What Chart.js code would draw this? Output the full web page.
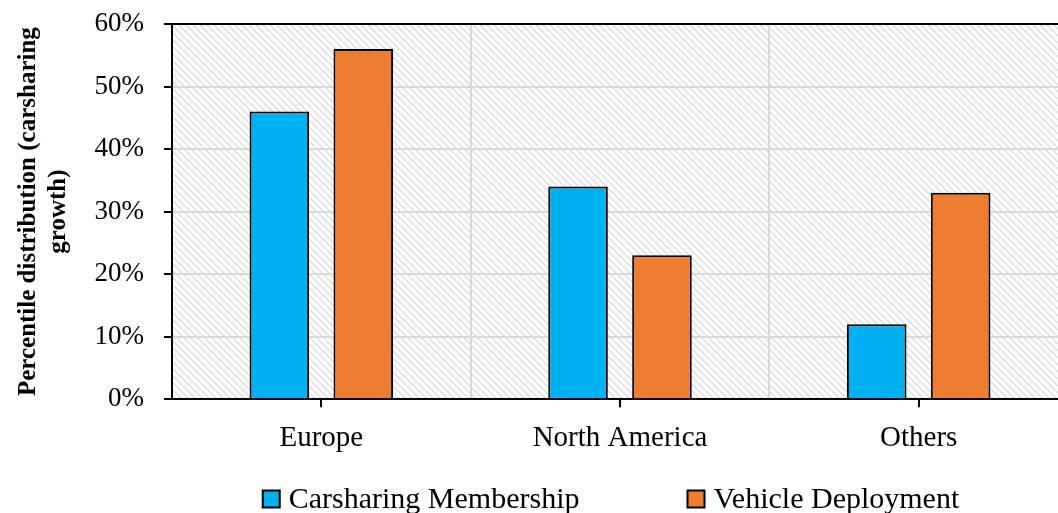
<!DOCTYPE html>
<html>
<head>
<meta charset="utf-8">
<script src="https://cdn.jsdelivr.net/npm/chart.js@4.4.1/dist/chart.umd.min.js"></script>
<style>
  html, body { margin: 0; padding: 0; background: #fff; overflow: hidden; }
  #wrap { width: 1058px; height: 513px; overflow: hidden; position: relative; }
  #box { width: 1232px; height: 513px; position: absolute; left: 0; top: 0; }
</style>
</head>
<body>
<div id="wrap"><div id="box"><canvas id="c"></canvas></div></div>
<script>
const categories = ['Europe', 'North America', 'Others'];
const membership = [46, 34, 12];
const deployment = [56, 23, 33];
const seriesNames = ['Carsharing Membership', 'Vehicle Deployment'];
const yTicks = [0, 10, 20, 30, 40, 50, 60];
const yTitle = ['Percentile distribution (carsharing', 'growth)'];

const FONT = "'Liberation Serif', 'Times New Roman', serif";

function makePattern(ctx) {
  const s = 7;
  const p = document.createElement('canvas');
  p.width = s; p.height = s;
  const g = p.getContext('2d');
  g.fillStyle = '#ffffff';
  g.fillRect(0, 0, s, s);
  g.strokeStyle = '#d6d6d6';
  g.lineWidth = 1.2;
  g.beginPath();
  g.moveTo(-1, -1); g.lineTo(s + 1, s + 1);
  g.moveTo(-1, s - 1); g.lineTo(1, s + 1);
  g.moveTo(s - 1, -1); g.lineTo(s + 1, 1);
  g.stroke();
  return ctx.createPattern(p, 'repeat');
}

const hatchPlugin = {
  id: 'hatch',
  beforeDraw(chart) {
    const a = chart.chartArea, ctx = chart.ctx;
    ctx.save();
    ctx.fillStyle = makePattern(ctx);
    ctx.fillRect(a.left, a.top, a.right - a.left, a.bottom - a.top);
    ctx.restore();
  }
};

const centerTicks = {
  id: 'centerTicks',
  afterDraw(chart) {
    const x = chart.scales.x, ctx = chart.ctx;
    const b = chart.chartArea.bottom;
    ctx.save();
    ctx.strokeStyle = '#000';
    ctx.lineWidth = 2;
    ctx.beginPath();
    x.ticks.forEach((t, i) => {
      const px = Math.round(x.getPixelForTick(i));
      ctx.moveTo(px, b);
      ctx.lineTo(px, b + 8);
    });
    ctx.stroke();
    ctx.restore();
  }
};

// Legend drawn from the chart's own datasets (labels + colours)
const bottomLegend = {
  id: 'bottomLegend',
  afterDraw(chart, args, opts) {
    const ctx = chart.ctx, a = chart.chartArea;
    const size = opts.fontSize, box = opts.box, gapText = opts.gapText, gapItem = opts.gapItem;
    ctx.save();
    ctx.font = size + 'px ' + FONT;
    const items = chart.data.datasets.map(d => ({ text: d.label, color: d.backgroundColor, w: ctx.measureText(d.label).width }));
    const total = items.reduce((s, it) => s + box + gapText + it.w, 0) + gapItem * (items.length - 1);
    let x = (a.left + a.right) / 2 + opts.shift - total / 2;
    const y = opts.y;
    ctx.textBaseline = 'middle';
    ctx.textAlign = 'left';
    items.forEach(it => {
      ctx.fillStyle = it.color;
      ctx.fillRect(x, y - box / 2, box, box);
      ctx.lineWidth = 2;
      ctx.strokeStyle = '#000';
      ctx.strokeRect(x, y - box / 2, box, box);
      ctx.fillStyle = '#000';
      ctx.fillText(it.text, x + box + gapText, y + 1);
      x += box + gapText + it.w + gapItem;
    });
    ctx.restore();
  }
};

new Chart(document.getElementById('c'), {
  type: 'bar',
  data: {
    labels: categories,
    datasets: [
      { label: seriesNames[0], data: membership, backgroundColor: '#00B0F0', borderColor: '#000', borderWidth: 2,
        categoryPercentage: 0.562, barPercentage: 0.71 },
      { label: seriesNames[1], data: deployment, backgroundColor: '#ED7D31', borderColor: '#000', borderWidth: 2,
        categoryPercentage: 0.562, barPercentage: 0.71 }
    ]
  },
  options: {
    responsive: true,
    maintainAspectRatio: false,
    animation: false,
    layout: { padding: { left: 8, right: 164, top: 0, bottom: 35 } },
    plugins: {
      legend: { display: false },
      tooltip: { enabled: false },
      title: { display: false },
      bottomLegend: { fontSize: 30, box: 17, gapText: 9, gapItem: 108, shift: -9, y: 499 }
    },
    scales: {
      x: {
        offset: true,
        grid: { display: true, offset: true, color: '#d9d9d9', lineWidth: 2, drawTicks: false },
        border: { display: true, color: '#000', width: 2 },
        ticks: { font: { family: FONT, size: 29 }, color: '#000', padding: 22 }
      },
      y: {
        min: 0, max: 60,
        afterBuildTicks(scale) { scale.ticks = yTicks.map(v => ({ value: v })); },
        afterFit(scale) { scale.width = 164; scale.paddingTop = 24; },
        grid: {
          color: ctx => (ctx.tick && ctx.tick.value === 60) ? '#000' : '#d9d9d9',
          lineWidth: 2,
          drawTicks: true, tickLength: 8, tickColor: '#000', tickWidth: 2
        },
        border: { display: true, color: '#000', width: 2 },
        ticks: { font: { family: FONT, size: 27 }, color: '#000', padding: 20, callback: v => v + '%' },
        title: {
          display: true,
          text: yTitle,
          font: { family: FONT, size: 25, weight: 'bold', lineHeight: 1.2 },
          color: '#000',
          padding: { top: 6, bottom: 10 }
        }
      }
    }
  },
  plugins: [hatchPlugin, centerTicks, bottomLegend]
});
</script>
</body>
</html>
